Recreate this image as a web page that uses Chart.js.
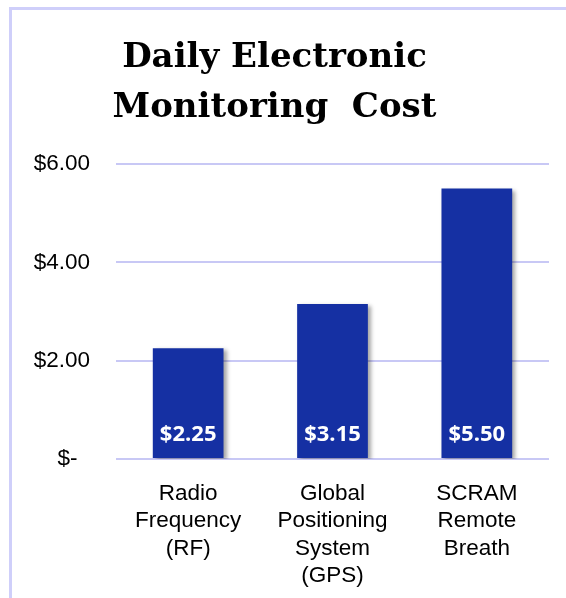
<!DOCTYPE html>
<html>
<head>
<meta charset="utf-8">
<script src="https://cdn.jsdelivr.net/npm/chart.js@4.4.0/dist/chart.umd.min.js"></script>
<style>
  body { margin: 0; background: #fff; }
  #wrap { position: relative; width: 566px; height: 598px; overflow: hidden; }
  #frame { position: absolute; left: 9px; top: 7px; width: 700px; height: 700px;
           border-left: 3px solid #cfcffa; border-top: 3px solid #cfcffa; }
  canvas { position: absolute; left: 0; top: 0; }
</style>
</head>
<body>
<div id="wrap">
  <div id="frame"></div>
  <canvas id="chart" width="566" height="598"></canvas>
</div>
<script>
const categories = [
  ['Radio', 'Frequency', '(RF)'],
  ['Global', 'Positioning', 'System', '(GPS)'],
  ['SCRAM', 'Remote', 'Breath']
];
const costs = [2.25, 3.15, 5.50];
const yTicks = [0, 2, 4, 6];

const money = v => v === 0 ? '$-  ' : '$' + v.toFixed(2);

// soft shadow to the right of each bar, like the original
const barShadow = {
  id: 'barShadow',
  beforeDatasetsDraw(chart) {
    const ctx = chart.ctx;
    ctx.save();
    ctx.shadowColor = 'rgba(0,0,0,0.35)';
    ctx.shadowOffsetX = 3;
    ctx.shadowOffsetY = 2;
    ctx.shadowBlur = 4;
  },
  afterDatasetsDraw(chart) {
    chart.ctx.restore();
  }
};

// white value labels near the foot of each bar
const valueLabels = {
  id: 'valueLabels',
  afterDatasetsDraw(chart) {
    const ctx = chart.ctx;
    const meta = chart.getDatasetMeta(0);
    ctx.save();
    ctx.fillStyle = '#ffffff';
    ctx.font = 'bold 22px "Open Sans", sans-serif';
    ctx.textAlign = 'center';
    ctx.textBaseline = 'middle';
    meta.data.forEach((bar, i) => {
      ctx.fillText(money(costs[i]), bar.x, bar.base - 23);
    });
    ctx.restore();
  }
};

new Chart(document.getElementById('chart'), {
  type: 'bar',
  data: {
    labels: categories,
    datasets: [{
      data: costs,
      backgroundColor: '#1530a3',
      borderWidth: 0,
      barPercentage: 0.49,
      categoryPercentage: 1
    }]
  },
  options: {
    responsive: false,
    animation: false,
    layout: { padding: { left: 0, right: 17, top: 27, bottom: 0 } },
    plugins: {
      legend: { display: false },
      tooltip: { enabled: false },
      title: {
        display: true,
        text: ['Daily Electronic', 'Monitoring  Cost'],
        color: '#000',
        font: { family: '"DejaVu Serif", serif', size: 34, weight: 'bold', lineHeight: 1.47 },
        padding: { top: 6, bottom: 31 }
      }
    },
    scales: {
      x: {
        grid: { display: false },
        border: { display: false },
        afterFit(scale) { scale.height = 139; },
        ticks: {
          color: '#000',
          font: { family: '"Liberation Sans", Arial, sans-serif', size: 22.5, lineHeight: 1.22 },
          padding: 13,
          maxRotation: 0
        }
      },
      y: {
        min: 0,
        max: 6,
        afterBuildTicks(scale) {
          scale.ticks = yTicks.map(v => ({ value: v }));
        },
        afterFit(scale) { scale.width = 116; },
        grid: { color: '#c8c8f5', lineWidth: 2, drawTicks: false },
        border: { display: false },
        ticks: {
          color: '#000',
          font: { family: '"Liberation Sans", Arial, sans-serif', size: 22.5 },
          padding: 26,
          callback: v => money(v)
        }
      }
    }
  },
  plugins: [barShadow, valueLabels]
});
</script>
</body>
</html>
